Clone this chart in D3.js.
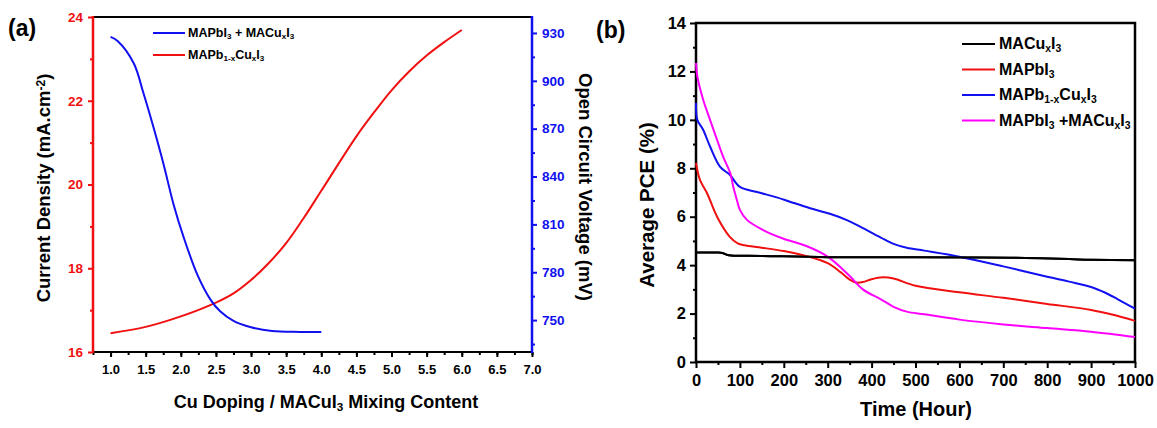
<!DOCTYPE html>
<html>
<head>
<meta charset="utf-8">
<script src="https://cdn.jsdelivr.net/npm/d3@7"></script>
<style>
  body { margin: 0; background: #fff; }
  svg { font-family: "Liberation Sans", Arial, sans-serif; font-weight: bold; }
</style>
</head>
<body>
<svg width="1157" height="428"></svg>
<script>
// ---- panel (a) data ----
var dopingX = [1.0, 1.5, 2.0, 2.5, 2.75, 3.0, 3.25, 3.5, 3.75, 4.0, 4.5, 4.75, 5.0, 5.25, 5.5, 5.75, 6.0];
var currentDensity = [16.45, 16.6, 16.85, 17.18, 17.4, 17.72, 18.12, 18.6, 19.2, 19.85, 21.15, 21.72, 22.25, 22.7, 23.08, 23.4, 23.69];
var mixingX = [1.0, 1.1, 1.33, 1.47, 1.61, 1.75, 1.9, 2.04, 2.24, 2.42, 2.56, 2.75, 3.0, 3.3, 3.7, 4.0];
var voltage = [927.5, 925, 911, 892, 871, 848.5, 822, 802, 778, 763, 755.5, 749.5, 745.5, 743.1, 742.6, 742.5];
var xTicksA = [1.0, 1.5, 2.0, 2.5, 3.0, 3.5, 4.0, 4.5, 5.0, 5.5, 6.0, 6.5, 7.0];
var leftTicksA = [16, 18, 20, 22, 24];
var rightTicksA = [750, 780, 810, 840, 870, 900, 930];

// ---- panel (b) data ----
var tBlack = [0, 50, 60, 70, 80, 150, 300, 500, 650, 750, 850, 900, 1000];
var pceBlack = [4.52, 4.52, 4.5, 4.43, 4.4, 4.38, 4.33, 4.33, 4.32, 4.3, 4.25, 4.22, 4.2];
var tRed = [0, 9, 25, 48, 77, 95, 110, 150, 200, 250, 300, 330, 350, 365, 380, 400, 425, 450, 500, 600, 700, 800, 900, 950, 1000];
var pceRed = [8.22, 7.52, 6.98, 6.0, 5.17, 4.9, 4.82, 4.72, 4.58, 4.38, 4.08, 3.7, 3.4, 3.28, 3.3, 3.42, 3.5, 3.45, 3.15, 2.88, 2.65, 2.4, 2.15, 1.95, 1.7];
var tBlue = [0, 3, 16, 32, 55, 77, 100, 139, 184, 214, 260, 305, 345, 375, 420, 450, 480, 520, 600, 700, 800, 850, 900, 930, 960, 1000];
var pceBlue = [10.7, 10.0, 9.6, 8.9, 8.06, 7.73, 7.23, 7.02, 6.8, 6.62, 6.35, 6.12, 5.85, 5.58, 5.15, 4.88, 4.72, 4.6, 4.35, 3.95, 3.52, 3.32, 3.1, 2.88, 2.6, 2.2];
var tMag = [0, 3, 16, 32, 48, 62, 78, 85, 93, 100, 116, 153, 198, 250, 300, 350, 380, 420, 450, 480, 520, 600, 700, 800, 900, 1000];
var pceMag = [12.35, 11.8, 10.85, 10.0, 9.17, 8.47, 7.8, 7.23, 6.7, 6.28, 5.87, 5.45, 5.1, 4.8, 4.35, 3.55, 3.0, 2.6, 2.28, 2.08, 1.97, 1.75, 1.55, 1.4, 1.25, 1.03];
var xTicksB = d3.range(0, 1001, 100);
var yTicksB = d3.range(0, 15, 2);

var RED = "#f01010", BLUE = "#1010f0", MAG = "#ff00ff";
var svg = d3.select("svg");

// text with sub/superscripts: parts = [[text, "sub"|"sup"|null], ...]
function richText(sel, parts, size) {
  parts.forEach(function(p) {
    var t = sel.append("tspan").text(p[0]);
    if (p[1] === "sub") t.attr("font-size", size * 0.65).attr("baseline-shift", "-25%");
    else if (p[1] === "sup") t.attr("font-size", size * 0.65).attr("baseline-shift", "45%");
  });
  return sel;
}

function styleAxis(g, color, size) {
  g.select(".domain").remove();
  g.selectAll("line").attr("stroke", color).attr("stroke-width", 2);
  g.selectAll("text").attr("fill", color).attr("font-size", size).attr("font-family", "Liberation Sans, Arial, sans-serif").attr("font-weight", "bold");
}

// ================= panel (a) =================
var a = {left: 93, right: 532, top: 17, bottom: 352};
var xa = d3.scaleLinear().domain([0.75, 7.0]).range([a.left, a.right]);
var ya = d3.scaleLinear().domain([16, 24]).range([a.bottom, a.top]);
var ya2 = d3.scaleLinear().domain([730, 940]).range([a.bottom, a.top]);

var gA = svg.append("g");

// minor ticks
gA.append("g").attr("transform", "translate(0," + a.bottom + ")")
  .call(d3.axisBottom(xa).tickValues(d3.range(0.75, 7.01, 0.25)).tickSize(3).tickFormat(""))
  .call(styleAxis, "#000", 13);
gA.append("g").attr("transform", "translate(" + a.left + ",0)")
  .call(d3.axisLeft(ya).tickValues([17, 19, 21, 23]).tickSize(3).tickFormat(""))
  .call(styleAxis, RED, 13);
gA.append("g").attr("transform", "translate(" + a.right + ",0)")
  .call(d3.axisRight(ya2).tickValues(d3.range(735, 940, 30)).tickSize(3).tickFormat(""))
  .call(styleAxis, BLUE, 13);
// major ticks
gA.append("g").attr("transform", "translate(0," + a.bottom + ")")
  .call(d3.axisBottom(xa).tickValues(xTicksA).tickSize(5).tickPadding(8).tickFormat(d3.format(".1f")))
  .call(styleAxis, "#000", 13);
gA.append("g").attr("transform", "translate(" + a.left + ",0)")
  .call(d3.axisLeft(ya).tickValues(leftTicksA).tickSize(5).tickPadding(5).tickFormat(d3.format("d")))
  .call(styleAxis, RED, 13.5);
gA.append("g").attr("transform", "translate(" + a.right + ",0)")
  .call(d3.axisRight(ya2).tickValues(rightTicksA).tickSize(5).tickPadding(5).tickFormat(d3.format("d")))
  .call(styleAxis, BLUE, 13.5);

// frame lines
gA.append("line").attr("x1", a.left).attr("x2", a.right).attr("y1", a.top).attr("y2", a.top).attr("stroke", "#000").attr("stroke-width", 2);
gA.append("line").attr("x1", a.left).attr("x2", a.right).attr("y1", a.bottom).attr("y2", a.bottom).attr("stroke", "#000").attr("stroke-width", 2);
gA.append("line").attr("x1", a.left).attr("x2", a.left).attr("y1", a.top - 1).attr("y2", a.bottom + 1).attr("stroke", RED).attr("stroke-width", 2.5);
gA.append("line").attr("x1", a.right).attr("x2", a.right).attr("y1", a.top - 1).attr("y2", a.bottom + 1).attr("stroke", BLUE).attr("stroke-width", 2.5);

var lineRed = d3.line().curve(d3.curveCatmullRom.alpha(0.5))
  .x(function(d) { return xa(d[0]); }).y(function(d) { return ya(d[1]); });
var lineBlue = d3.line().curve(d3.curveCatmullRom.alpha(0.5))
  .x(function(d) { return xa(d[0]); }).y(function(d) { return ya2(d[1]); });

gA.append("path").datum(d3.zip(dopingX, currentDensity)).attr("d", lineRed)
  .attr("fill", "none").attr("stroke", RED).attr("stroke-width", 2);
gA.append("path").datum(d3.zip(mixingX, voltage)).attr("d", lineBlue)
  .attr("fill", "none").attr("stroke", BLUE).attr("stroke-width", 2);

// legend (a)
var legA = [
  {color: BLUE, parts: [["MAPbI", null], ["3", "sub"], [" + MACu", null], ["x", "sub"], ["I", null], ["3", "sub"]]},
  {color: RED, parts: [["MAPb", null], ["1-x", "sub"], ["Cu", null], ["x", "sub"], ["I", null], ["3", "sub"]]}
];
legA.forEach(function(l, i) {
  var y = 33 + i * 22;
  gA.append("line").attr("x1", 153).attr("x2", 185).attr("y1", y).attr("y2", y).attr("stroke", l.color).attr("stroke-width", 2);
  richText(gA.append("text").attr("x", 188).attr("y", y + 4).attr("font-size", 12.5), l.parts, 12.5);
});

// axis titles (a)
richText(gA.append("text").attr("x", 326).attr("y", 408).attr("text-anchor", "middle").attr("font-size", 18),
  [["Cu Doping / MACuI", null], ["3", "sub"], [" Mixing Content", null]], 18);
richText(gA.append("text").attr("transform", "translate(50,188) rotate(-90)").attr("text-anchor", "middle").attr("font-size", 18.5),
  [["Current Density (mA.cm", null], ["-2", "sup"], [")", null]], 18.5);
gA.append("text").attr("transform", "translate(579,187) rotate(90)").attr("text-anchor", "middle").attr("font-size", 18.5)
  .text("Open Circuit Voltage (mV)");
gA.append("text").attr("x", 8).attr("y", 36).attr("font-size", 23).text("(a)");

// ================= panel (b) =================
var b = {left: 696, right: 1135, top: 23, bottom: 362};
var xb = d3.scaleLinear().domain([0, 1000]).range([b.left, b.right]);
var yb = d3.scaleLinear().domain([0, 14]).range([b.bottom, b.top]);
var gB = svg.append("g");

gB.append("g").attr("transform", "translate(0," + b.bottom + ")")
  .call(d3.axisBottom(xb).tickValues(d3.range(50, 1000, 100)).tickSize(3).tickFormat(""))
  .call(styleAxis, "#000", 16);
gB.append("g").attr("transform", "translate(" + b.left + ",0)")
  .call(d3.axisLeft(yb).tickValues(d3.range(1, 14, 2)).tickSize(3).tickFormat(""))
  .call(styleAxis, "#000", 16);
gB.append("g").attr("transform", "translate(0," + b.bottom + ")")
  .call(d3.axisBottom(xb).tickValues(xTicksB).tickSize(6).tickPadding(6).tickFormat(d3.format("d")))
  .call(styleAxis, "#000", 16.5);
gB.append("g").attr("transform", "translate(" + b.left + ",0)")
  .call(d3.axisLeft(yb).tickValues(yTicksB).tickSize(6).tickPadding(4).tickFormat(d3.format("d")))
  .call(styleAxis, "#000", 16.5);

gB.append("rect").attr("x", b.left).attr("y", b.top).attr("width", b.right - b.left).attr("height", b.bottom - b.top)
  .attr("fill", "none").attr("stroke", "#000").attr("stroke-width", 2.5);

var lineB = d3.line().curve(d3.curveCatmullRom.alpha(0.5))
  .x(function(d) { return xb(d[0]); }).y(function(d) { return yb(d[1]); });

var seriesB = [
  {t: tBlack, v: pceBlack, color: "#000", parts: [["MACu", null], ["x", "sub"], ["I", null], ["3", "sub"]]},
  {t: tRed, v: pceRed, color: RED, parts: [["MAPbI", null], ["3", "sub"]]},
  {t: tBlue, v: pceBlue, color: BLUE, parts: [["MAPb", null], ["1-x", "sub"], ["Cu", null], ["x", "sub"], ["I", null], ["3", "sub"]]},
  {t: tMag, v: pceMag, color: MAG, parts: [["MAPbI", null], ["3", "sub"], [" +MACu", null], ["x", "sub"], ["I", null], ["3", "sub"]]}
];
seriesB.forEach(function(s) {
  gB.append("path").datum(d3.zip(s.t, s.v)).attr("d", lineB)
    .attr("fill", "none").attr("stroke", s.color).attr("stroke-width", 2);
});
// draw black line on top of others
gB.append("path").datum(d3.zip(tBlack, pceBlack)).attr("d", lineB)
  .attr("fill", "none").attr("stroke", "#000").attr("stroke-width", 2);

seriesB.forEach(function(s, i) {
  var y = 44 + i * 25.5;
  gB.append("line").attr("x1", 962).attr("x2", 995).attr("y1", y).attr("y2", y).attr("stroke", s.color).attr("stroke-width", 2);
  richText(gB.append("text").attr("x", 999).attr("y", y + 5).attr("font-size", 16), s.parts, 16);
});

gB.append("text").attr("x", 916).attr("y", 416).attr("text-anchor", "middle").attr("font-size", 20).text("Time (Hour)");
gB.append("text").attr("transform", "translate(654,205) rotate(-90)").attr("text-anchor", "middle").attr("font-size", 20.5)
  .text("Average PCE (%)");
gB.append("text").attr("x", 596).attr("y", 38).attr("font-size", 23).text("(b)");
</script>
</body>
</html>
